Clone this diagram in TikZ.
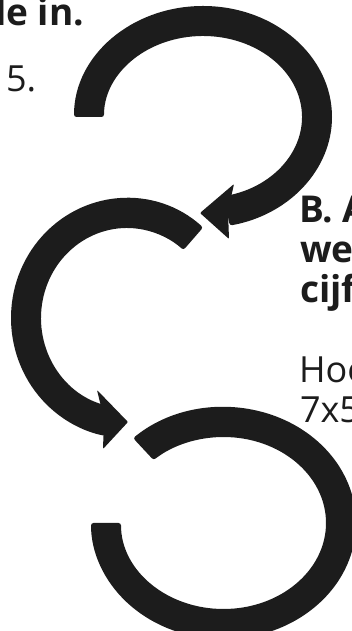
\documentclass[tikz,border=0pt]{standalone}
\usepackage{fontspec}
\setmainfont{Open Sans}
\usetikzlibrary{calc}
\definecolor{ink}{HTML}{1C1C1C}
\begin{document}
\begin{tikzpicture}[x=1pt,y=1pt,
  band/.style={fill=ink, rounded corners=2.5pt},
  head/.style={fill=ink, rounded corners=1pt},
  lbl/.style={anchor=base west, inner sep=0pt, outer sep=0pt, text=ink, font=\fontsize{36}{40}\selectfont},
  lblb/.style={anchor=base west, inner sep=0pt, outer sep=0pt, text=ink, font=\fontsize{37}{40}\selectfont\bfseries}]
\useasboundingbox (0,0) rectangle (352,631);
\clip (0,0) rectangle (352,631);
\coordinate (c1) at (203,514);
\coordinate (c2) at (127,313);
\coordinate (c3) at (223.5,108);
% arc 1 (top), clockwise, arrow at bottom
\fill[band] ($(c1)+(180:129 and 111)$) arc[start angle=180, end angle=-78, x radius=129, y radius=111]
  -- ($(c1)+(-78:99 and 81)$) arc[start angle=-78, end angle=180, x radius=99, y radius=81] -- cycle;
\coordinate (t1) at (200,418);
\fill[head] (t1) -- (234,447) -- (228,420) -- (229,392) -- cycle;
% arc 2 (middle), counter-clockwise, arrow at bottom
\fill[band] ($(c2)+(49:116 and 120)$) arc[start angle=49, end angle=259, x radius=116, y radius=120]
  -- ($(c2)+(259:86 and 90)$) arc[start angle=259, end angle=49, x radius=86, y radius=90] -- cycle;
\coordinate (t2) at (128,209);
\fill[head] (t2) -- (97,241) -- (104,212) -- (103,182) -- cycle;
% arc 3 (bottom)
\fill[band] ($(c3)+(133:132.5 and 116)$) arc[start angle=133, end angle=-180, x radius=132.5, y radius=116]
  -- ($(c3)+(-180:102.5 and 86)$) arc[start angle=-180, end angle=133, x radius=102.5, y radius=86] -- cycle;
% texts
\node[lblb] (top) at (-5,605) {le in.};
\node[lbl] (five) at (6,539) {5.};
\node[lblb] (b1) at (299,408) {B. A};
\node[lblb] (b2) at (300,368) {we};
\node[lblb] (b3) at (300,328) {cijf};
\node[lbl] (h1) at (299,248) {Hoe};
\node[lbl] (h2) at (300,208) {7x5};
\end{tikzpicture}
\end{document}
